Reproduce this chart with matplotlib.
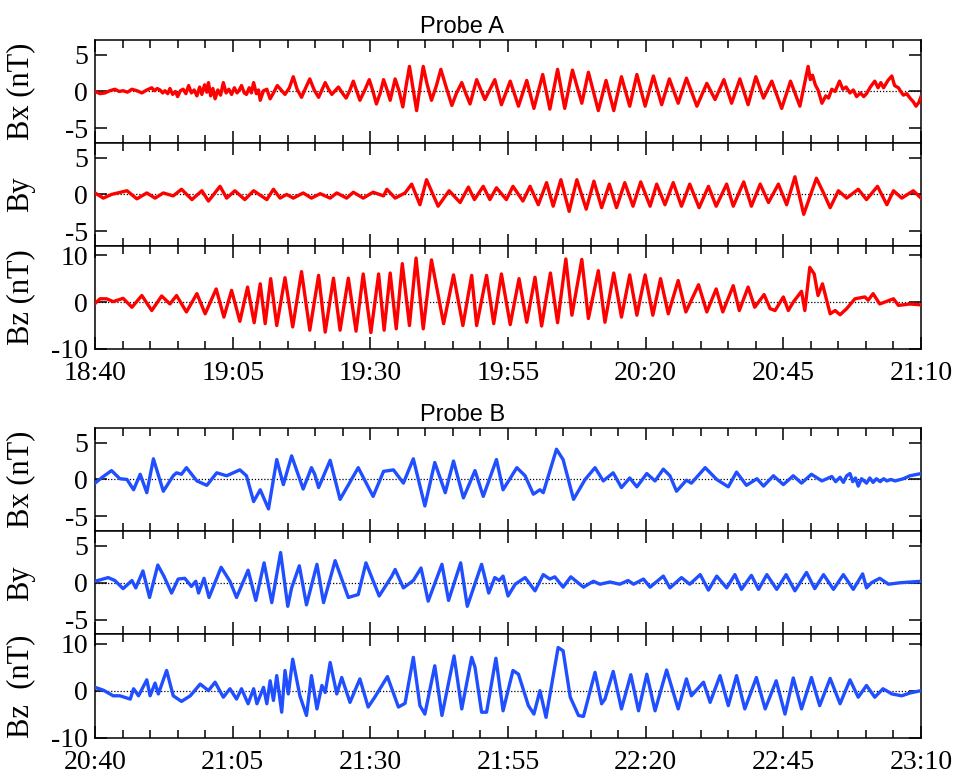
import matplotlib.pyplot as plt
from matplotlib.ticker import MultipleLocator

plt.rcParams["axes.unicode_minus"] = False

# minutes after the start of each interval (18:40 for probe A, 20:40 for probe B)
a_bx_t = [0.0, 0.9, 1.8, 2.7, 3.6, 4.4, 5.1, 5.9, 6.7, 7.6, 8.5, 9.4, 10.3, 10.8, 11.3, 11.8, 12.3,
          12.7, 13.2, 13.6, 14.1, 14.6, 15.0, 15.5, 16.0, 16.5, 17.0, 17.5, 18.0, 18.5, 19.0, 19.4,
          19.9, 20.3, 20.6, 21.0, 21.4, 21.8, 22.3, 22.8, 23.3, 23.8, 24.3, 24.8, 25.3, 25.8, 26.2,
          26.6, 27.1, 27.5, 28.0, 28.4, 28.8, 29.3, 29.7, 30.0, 30.6, 31.2, 31.8, 32.4, 33.1, 33.8,
          34.5, 35.3, 36.0, 36.7, 37.5, 38.2, 39.0, 39.8, 40.6, 41.2, 41.8, 42.4, 43.0, 43.6, 44.2,
          44.9, 45.6, 46.3, 46.9, 47.5, 48.1, 49.0, 49.8, 50.4, 51.1, 51.8, 52.4, 53.0, 53.6, 54.5,
          55.2, 55.9, 56.5, 57.1, 57.7, 58.4, 59.0, 59.6, 60.3, 61.1, 62.0, 62.8, 63.8, 64.8, 65.6,
          66.6, 67.3, 68.1, 69.3, 70.8, 72.6, 73.8, 75.4, 76.9, 78.4, 79.7, 81.3, 82.6, 84.0, 85.3,
          86.7, 88.4, 89.6, 91.4, 92.8, 94.2, 95.6, 97.1, 98.4, 99.9, 101.4, 102.9, 104.3, 105.9,
          107.4, 109.3, 111.1, 112.6, 114.2, 115.6, 117.1, 118.6, 120.0, 121.4, 122.9, 124.7, 126.3,
          128.0, 129.5, 129.9, 130.3, 130.8, 131.3, 132.0, 132.7, 133.2, 133.8, 134.4, 135.2, 135.8,
          136.4, 137.1, 137.7, 138.3, 139.0, 139.6, 140.1, 140.8, 141.6, 142.2, 142.7, 143.2, 144.0,
          144.7, 145.2, 145.9, 146.4, 146.8, 147.4, 148.0, 148.6, 149.1, 149.6, 150.0]
a_bx = [0.0, -0.3, -0.2, 0.1, 0.3, 0.0, 0.1, -0.1, 0.3, 0.1, -0.2, 0.2, 0.5, 0.1, 0.4, 0.2, -0.2,
        0.1, -0.3, 0.4, -0.4, 0.0, -0.7, 0.1, 0.3, -0.3, 0.8, -0.2, 0.2, -0.6, 0.6, -0.4,
        0.9, -0.1, 1.2, -0.6, 0.4, -1.0, 0.2, -0.5, 1.2, -0.2, 0.3, -0.4, 0.5, -0.2, 0.2,
        0.8, -0.2, -0.4, 0.5, -0.2, 1.2, -0.3, 0.2, -1.2, 0.1, 0.3, -1.0, -0.2, 0.8, 0.2,
        -0.4, 0.5, 2.0, 0.3, -0.8, 0.4, 1.7, 0.2, -0.8, 0.2, 1.2, 0.3, -0.4, 0.1, 0.6,
        -0.2, -0.9, 0.2, 1.4, 0.1, -1.2, 0.2, 1.6, 0.2, -1.7, -0.2, 1.6, 0.3, -1.2, 1.7,
        0.1, -2.1, 0.8, 3.4, 0.6, -2.6, 0.5, 3.4, 1.0, -1.2, 0.8, 3.0, 0.5, -1.9, -0.3,
        1.2, -0.2, -1.7, 1.6, -1.1, 1.6, -1.8, 1.4, -2.0, 1.5, -2.3, 2.3, -2.4, 3.0, -2.3,
        2.9, -1.6, 2.6, -2.6, 1.5, -2.6, 2.0, -2.0, 2.3, -2.0, 2.1, -1.8, 1.7, -1.6,
        1.8, -2.0, 1.1, -1.1, 1.6, -1.6, 1.7, -1.8, 2.0, -0.9, 1.4, -2.3, 1.4,
        -2.0, 3.4, 1.6, 2.2, 0.9, 0.2, -1.6, -0.6, -0.9, 0.3, 0.0, 1.4, 0.3,
        0.6, -0.2, 0.2, -0.7, -0.2, -0.7, -0.3, 0.6, 1.4, 0.5, 1.2, 0.5, 1.5,
        2.1, 0.8, 0.5, -0.1, -0.5, -0.3, -0.9, -1.4, -2.0, -1.5, -0.7]

a_by_t = [0.0, 1.5, 3.0, 5.8, 7.6, 9.4, 10.9, 12.4, 14.2, 15.7, 17.6, 19.4, 20.6, 22.7, 23.9, 25.4,
          27.2, 28.8, 31.2, 32.4, 33.6, 34.8, 36.0, 37.8, 39.3, 40.9, 42.7, 43.9, 45.7, 46.9, 48.7,
          50.5, 52.4, 53.0, 54.5, 56.3, 57.5, 59.0, 60.2, 62.3, 64.3, 65.3, 66.3, 67.8, 68.9, 70.5,
          71.7, 72.9, 74.7, 75.9, 77.7, 79.0, 80.5, 82.0, 83.2, 84.6, 86.1, 87.5, 89.2, 90.6, 92.0,
          93.4, 94.7, 96.2, 97.7, 99.1, 100.8, 102.0, 103.5, 105.0, 106.5, 108.0, 109.7, 111.4,
          112.8, 114.7, 115.9, 117.8, 119.2, 120.8, 122.3, 124.1, 125.6, 127.1, 128.7, 131.0,
          132.3, 133.5, 135.0, 136.5, 138.6, 140.1, 142.1, 143.8, 145.0, 146.5, 148.6, 150.0]
a_by = [0.2, -0.5, 0.0, 0.5, -0.6, 0.2, -0.5, 0.2, -0.2, 0.7, -0.7, 0.5, -0.9, 1.1, -0.5, 0.5,
        -0.7, 0.5, -0.7, 0.7, -0.5, 0.0, -0.5, 0.2, -0.5, 0.1, -0.5, 0.2, -0.5, 0.3, -0.5,
        0.3, -0.2, 0.7, -0.5, 0.2, 1.4, -1.4, 2.0, -1.6, 0.5, -0.3, -1.1, 1.0, -0.7, 1.1,
        -0.7, 0.9, -0.7, 1.1, -0.9, 1.1, -1.4, 1.6, -1.6, 2.0, -2.3, 2.0, -2.0, 1.8, -1.8,
        1.4, -1.8, 1.6, -1.6, 1.7, -1.6, 1.4, -1.4, 1.6, -1.6, 1.4, -1.8, 1.1,
        -1.6, 1.4, -1.6, 1.7, -1.6, 1.4, -1.1, 1.4, -1.4, 2.4, -2.7, 2.2,
        0.2, -1.8, 0.5, -0.5, 0.7, -0.7, 1.1, -1.4, 0.5, -0.5, 0.5, -0.5]

a_bz_t = [0.0, 0.9, 2.1, 3.3, 5.1, 6.7, 8.5, 10.3, 12.1, 13.6, 14.8, 16.6, 18.5, 20.0, 22.0, 23.4,
          24.8, 26.3, 27.7, 28.9, 30.0, 30.9, 31.9, 33.0, 34.5, 35.9, 37.5, 39.0, 40.6, 41.8, 43.3,
          44.5, 46.0, 47.4, 48.7, 50.1, 51.5, 52.5, 53.6, 54.7, 55.8, 57.1, 58.3, 59.6, 61.1, 63.3,
          65.1, 66.8, 68.4, 69.3, 71.1, 72.4, 73.8, 75.4, 77.0, 78.4, 79.9, 81.1, 82.7, 84.0, 85.5,
          86.6, 88.4, 89.6, 91.4, 92.6, 94.2, 95.6, 97.1, 98.4, 99.9, 101.3, 102.7, 104.1, 105.9,
          107.3, 109.6, 111.1, 112.8, 114.0, 115.9, 117.0, 118.6, 119.8, 121.5, 122.6, 123.5,
          125.0, 125.9, 126.8, 128.3, 128.9, 129.8, 130.6, 131.3, 132.1, 133.5, 134.4, 135.3,
          136.5, 138.0, 139.8, 140.4, 141.3, 142.5, 145.0, 145.9, 148.0, 150.0]
a_bz = [-0.3, 0.7, 0.7, 0.1, 0.8, -1.1, 1.4, -1.8, 1.3, -0.4, 1.4, -2.1, 1.8, -2.5, 2.8, -3.2,
        2.5, -4.1, 3.2, -4.4, 3.9, -4.6, 5.0, -5.0, 5.2, -5.3, 6.5, -6.0, 5.7, -6.4, 5.1,
        -6.0, 5.1, -6.2, 6.0, -6.5, 6.0, -6.0, 6.2, -5.7, 8.2, -5.0, 9.4, -5.7, 9.0, -4.6,
        5.8, -5.0, 5.7, -5.0, 5.7, -4.6, 6.0, -4.8, 5.0, -4.3, 5.3, -5.1, 6.2, -4.4, 9.2,
        -2.8, 9.1, -3.5, 6.7, -4.3, 6.2, -3.2, 5.8, -2.8, 5.8, -2.8, 5.0, -2.5, 4.6,
        -2.1, 3.7, -2.1, 2.8, -2.1, 3.5, -1.8, 3.2, -1.1, 1.6, -1.4, -1.8,
        1.1, -1.8, 0.0, 2.3, -1.8, 7.4, 6.0, 1.4, 3.9, -2.5, -1.8, -2.7,
        -1.4, 0.7, 1.1, 0.4, 1.8, -0.4, 0.7, -0.7, -0.4, -0.6]

b_bx_t = [0.0, 1.5, 3.0, 4.5, 5.8, 7.0, 8.2, 9.4, 10.6, 12.4, 14.2, 14.8, 15.7, 16.6, 18.5, 20.3,
          22.1, 23.9, 26.3, 27.5, 28.8, 30.0, 31.5, 33.0, 34.2, 35.7, 37.8, 39.3, 39.9, 40.6, 42.7,
          44.5, 47.8, 50.5, 52.4, 54.2, 56.0, 57.8, 59.9, 61.7, 63.6, 65.1, 66.9, 69.0, 70.5, 72.9,
          74.1, 76.6, 78.1, 79.6, 80.8, 81.4, 83.8, 85.0, 86.9, 89.0, 90.8, 92.3, 94.1, 95.6, 97.1,
          98.4, 100.2, 101.7, 103.2, 104.4, 105.6, 107.4, 108.3, 110.8, 112.9, 115.0, 116.5, 118.3,
          120.2, 121.4, 123.2, 125.0, 126.8, 128.3, 130.1, 132.0, 133.8, 134.5, 135.3, 135.9, 136.5,
          137.1, 137.6, 138.1, 138.6, 139.2, 140.1, 140.7, 141.3, 141.9, 142.6, 143.2, 143.8, 144.5,
          145.3, 146.8, 148.0, 150.0]
b_bx = [-0.5, 0.4, 1.2, 0.1, 0.0, -1.4, 0.7, -1.8, 2.8, -1.6, 0.5, 0.9, 0.7, 1.6, -0.2, -0.8,
        0.9, 0.5, 1.3, 0.5, -3.0, -1.4, -4.0, 2.7, -0.7, 3.2, -1.3, 1.6, 0.7, -1.1, 2.6,
        -2.7, 1.6, -2.3, 1.1, 1.3, -0.5, 2.8, -3.6, 2.3, -1.8, 2.5, -2.5, 1.2, -2.3, 2.7,
        -1.4, 1.6, 0.5, -2.0, -1.4, -1.8, 4.1, 2.7, -2.7, 0.0, 1.6, -0.2, 0.9, -1.1, 0.2,
        -1.0, 0.8, -0.2, 1.4, 0.5, -1.6, -0.1, -0.5, 1.6, 0.0, -1.0, 1.0, -0.8,
        0.1, -0.9, 0.5, -0.7, 0.5, -0.5, 0.7, -0.2, 0.4, -0.3, 0.3, -0.4, 0.5,
        0.8, -0.3, 0.2, -0.9, 0.1, -0.5, 0.2, -0.4, 0.1, -0.3, 0.1, -0.2, 0.0,
        -0.2, 0.1, 0.5, 0.8]

b_by_t = [0.0, 2.4, 3.6, 5.1, 6.7, 7.4, 8.7, 9.9, 11.4, 12.5, 13.9, 15.1, 16.3, 17.5, 18.3, 18.8,
          19.8, 20.7, 22.9, 24.5, 25.7, 27.8, 29.2, 30.7, 32.1, 33.7, 35.0, 35.7, 37.1, 38.4, 40.3,
          41.5, 43.6, 46.0, 47.8, 49.2, 51.6, 53.9, 54.5, 56.0, 57.8, 59.2, 60.5, 63.0, 64.2, 66.4,
          67.6, 70.2, 71.5, 72.6, 73.4, 74.1, 75.0, 76.3, 78.1, 79.9, 81.4, 82.6, 83.5, 85.0, 86.4,
          88.7, 90.5, 91.7, 93.5, 95.3, 96.8, 97.8, 99.6, 100.8, 103.2, 104.4, 106.5, 108.0, 109.9,
          111.4, 112.9, 114.7, 116.2, 117.4, 119.2, 120.5, 122.0, 123.8, 125.5, 127.1, 129.2, 130.7,
          132.3, 134.1, 135.9, 137.7, 139.4, 140.1, 141.0, 142.5, 144.1, 146.2, 150.0]
b_by = [0.2, 0.7, 0.3, -0.8, 0.3, -0.7, 1.6, -2.0, 2.4, 0.9, -1.4, 0.5, 0.6, -0.5, 0.2, -1.4,
        0.6, -2.0, 2.1, 0.2, -2.0, 1.7, -2.4, 2.7, -2.7, 4.1, -3.2, -0.7, 2.3, -3.0, 2.5,
        -2.7, 3.0, -2.0, -1.6, 2.7, -1.8, 0.9, 1.8, -0.7, 0.3, 2.0, -2.5, 2.5, -2.4, 2.7,
        -3.2, 2.5, -1.4, 0.7, 0.3, 0.9, -1.8, -0.2, 0.7, -1.1, 1.1, 0.5, 0.8, -0.6, 0.8,
        -0.6, 0.2, -0.2, 0.1, -0.2, 0.3, -0.2, 0.5, -0.6, 0.9, -0.7, 0.7, -0.2, 1.1,
        -1.0, 0.9, -0.7, 1.1, -0.9, 1.0, -0.9, 1.1, -0.9, 1.1, -1.1, 1.4, -0.8,
        1.1, -0.9, 1.1, -0.9, 1.2, -0.7, 0.0, 0.6, -0.2, 0.0, 0.2]

b_bz_t = [0.0, 1.5, 3.3, 4.5, 6.4, 7.0, 7.9, 9.4, 10.0, 10.9, 11.5, 13.0, 14.2, 15.7, 17.3, 19.1,
          20.6, 21.8, 23.3, 24.5, 25.7, 26.6, 27.8, 28.8, 29.4, 30.6, 31.2, 31.8, 32.4, 33.0, 33.9,
          34.5, 35.1, 35.9, 37.2, 38.4, 39.3, 40.3, 41.2, 41.8, 42.7, 43.9, 44.8, 46.3, 48.1, 49.6,
          50.8, 53.1, 55.1, 56.3, 57.8, 59.0, 59.9, 61.7, 63.0, 65.2, 66.6, 68.4, 69.0, 70.2, 71.1,
          72.8, 74.1, 75.9, 76.9, 78.7, 79.7, 80.8, 81.9, 84.1, 85.0, 86.3, 87.8, 88.7, 90.8, 92.0,
          92.6, 94.1, 95.6, 97.3, 98.7, 100.2, 101.7, 103.8, 105.9, 107.4, 108.3, 110.5, 111.7,
          113.5, 115.0, 116.5, 118.0, 120.1, 121.7, 123.7, 125.3, 126.8, 128.3, 130.1, 131.6,
          133.5, 135.3, 137.1, 138.6, 140.1, 141.6, 143.1, 144.7, 146.5, 148.0, 150.0]
b_bz = [0.7, 0.1, -1.1, -1.1, -1.8, 0.4, -1.1, 2.3, -1.1, 1.6, -0.7, 4.3, -1.1, -2.3, -1.1, 1.4,
        0.0, 1.8, -1.4, 0.4, -1.8, 0.4, -2.8, 0.4, -2.8, 0.7, -2.8, 2.1, -2.1, 3.2, -4.6,
        4.3, -0.7, 6.7, -1.1, -5.3, 3.2, -3.9, 1.1, -0.4, 6.0, -0.7, 2.8, -2.5, 2.5, -3.5,
        -1.4, 3.0, -3.5, -2.7, 7.1, -3.2, -5.0, 5.3, -5.3, 7.4, -3.9, 7.1, 5.0, -4.6, -4.6,
        6.9, -4.3, 4.3, 3.5, -3.2, -5.0, 0.0, -5.7, 9.2, 8.5, -1.4, -5.3, -5.5, 3.9, -2.8,
        -1.8, 4.1, -3.9, 3.4, -4.3, 3.5, -4.3, 4.4, -3.9, 2.5, -1.1, 1.8, -2.5,
        3.2, -3.2, 3.2, -3.9, 2.8, -3.9, 2.1, -5.0, 2.7, -3.9, 2.8, -3.2,
        2.6, -2.8, 2.3, -1.4, 1.1, -1.4, 0.4, -0.7, -1.1, -0.5, 0.0]

a_time_labels = ["18:40", "19:05", "19:30", "19:55", "20:20", "20:45", "21:10"]
b_time_labels = ["20:40", "21:05", "21:30", "21:55", "22:20", "22:45", "23:10"]

serif = "Liberation Serif"
red = "#ff0000"
blue = "#1f4fff"

fig = plt.figure(figsize=(9.57, 7.76), dpi=100)

left, width, h = 0.0993, 0.8631, 0.1329
bottoms_a = [0.8157, 0.6830, 0.5503]
bottoms_b = [0.3157, 0.1826, 0.0496]


def setup(ax, ylim, yticks, ylabel, xlabels=None):
    ax.set_xlim(0, 150)
    ax.set_ylim(*ylim)
    ax.axhline(0, color="black", lw=0.9, ls=(0, (1, 1.5)), zorder=1)
    ax.xaxis.set_major_locator(MultipleLocator(25))
    ax.xaxis.set_minor_locator(MultipleLocator(5))
    ax.set_yticks(yticks)
    ax.tick_params(which="both", direction="in", top=True, bottom=True, left=True, right=True,
                   width=1.1, labelsize=20, pad=5)
    ax.tick_params(axis="x", pad=9)
    ax.tick_params(which="major", length=8.5)
    ax.tick_params(which="minor", length=6)
    for s in ax.spines.values():
        s.set_linewidth(1.1)
    for lab in ax.get_yticklabels():
        lab.set_fontfamily(serif)
    if xlabels is None:
        ax.set_xticklabels([])
    else:
        ax.set_xticks(range(0, 151, 25))
        ax.set_xticklabels(xlabels, fontfamily=serif, fontsize=20)
    ax.set_ylabel(ylabel, fontfamily=serif, fontsize=22)
    ax.yaxis.set_label_coords(-0.0726, 0.5)


panels = [
    (bottoms_a[0], a_bx_t, a_bx, red, (-7, 7), [-5, 0, 5], "Bx (nT)", None),
    (bottoms_a[1], a_by_t, a_by, red, (-7, 7), [-5, 0, 5], "By", None),
    (bottoms_a[2], a_bz_t, a_bz, red, (-10, 12), [-10, 0, 10], "Bz (nT)", a_time_labels),
    (bottoms_b[0], b_bx_t, b_bx, blue, (-7, 7), [-5, 0, 5], "Bx (nT)", None),
    (bottoms_b[1], b_by_t, b_by, blue, (-7, 7), [-5, 0, 5], "By", None),
    (bottoms_b[2], b_bz_t, b_bz, blue, (-10, 12), [-10, 0, 10], "Bz  (nT)", b_time_labels),
]

for bottom, t, v, color, ylim, yticks, ylabel, xlabels in panels:
    ax = fig.add_axes([left, bottom, width, h])
    ax.plot(t, v, color=color, lw=2.4, zorder=3, solid_joinstyle="round")
    setup(ax, ylim, yticks, ylabel, xlabels)

fig.text(0.483, 1 - 33 / 776, "Probe A", ha="center", va="baseline",
         fontfamily="Liberation Sans", fontsize=17)
fig.text(0.483, 1 - 421 / 776, "Probe B", ha="center", va="baseline",
         fontfamily="Liberation Sans", fontsize=17)

fig.savefig("out.png", dpi=100)
